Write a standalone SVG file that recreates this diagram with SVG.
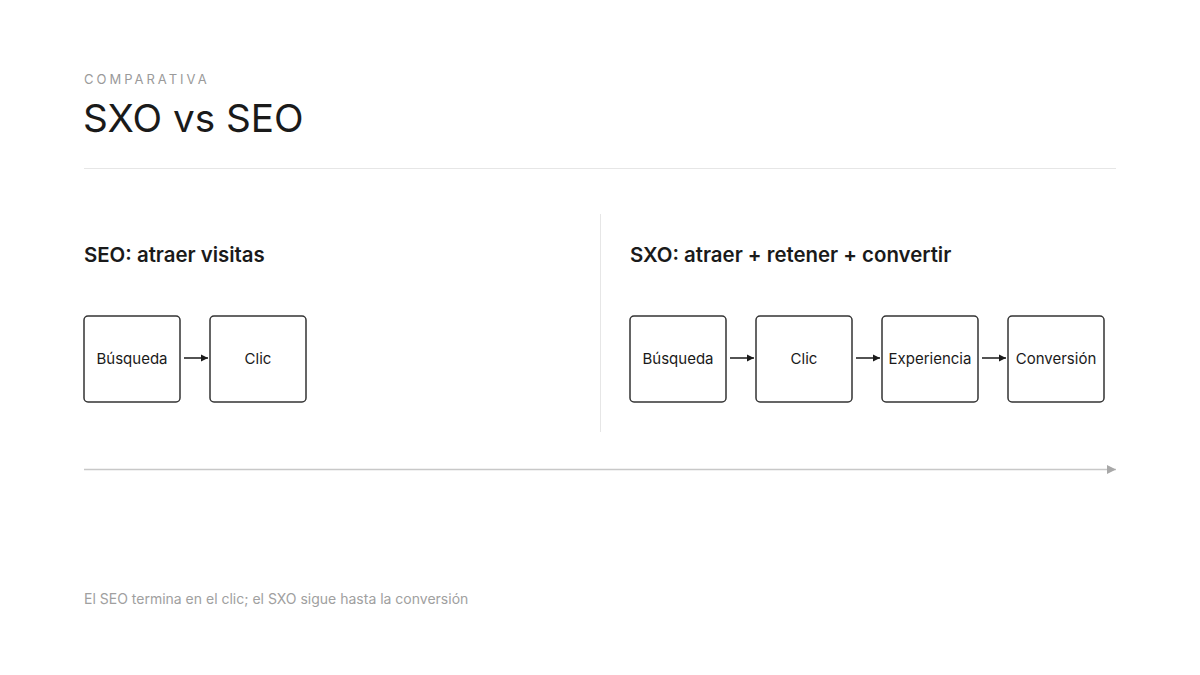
<svg xmlns="http://www.w3.org/2000/svg" width="1200" height="675" viewBox="0 0 1200 675">
<style>
text{font-family:Inter,"Noto Sans",sans-serif}
.eyebrow{font-size:13px;fill:#9a9a9a;letter-spacing:3px}
.title{font-size:38.7px;fill:#1a1a1a}
.h{font-size:20.4px;font-weight:600;fill:#1a1a1a}
.box{fill:#fff;stroke:#333;stroke-width:1.5}
.lbl{font-size:15px;fill:#1a1a1a;text-anchor:middle}
.foot{font-size:14px;fill:#a0a0a0}
.arr{stroke:#1a1a1a;stroke-width:1.5;fill:none}
</style>
<defs>
<marker id="ah" markerWidth="8" markerHeight="8" refX="7" refY="4" orient="auto" markerUnits="userSpaceOnUse"><path d="M0,0.5 L7,4 L0,7.5 Z" fill="#1a1a1a"/></marker>
<marker id="ahg" markerWidth="10" markerHeight="10" refX="9" refY="5" orient="auto" markerUnits="userSpaceOnUse"><path d="M0,0.5 L9,5 L0,9.5 Z" fill="#a8a8a8"/></marker>
</defs>
<rect width="1200" height="675" fill="#fff"/>
<text class="eyebrow" x="84" y="84">COMPARATIVA</text>
<text class="title" x="83" y="132">SXO vs SEO</text>
<line x1="84" y1="168.5" x2="1116" y2="168.5" stroke="#e6e6e6" stroke-width="1"/>
<line x1="600.5" y1="214" x2="600.5" y2="432" stroke="#e6e6e6" stroke-width="1"/>
<text class="h" x="84" y="262">SEO: atraer visitas</text>
<text class="h" x="630" y="262">SXO: atraer + retener + convertir</text>
<g id="seo-busqueda"><rect class="box" x="84" y="316" width="96" height="86" rx="4"/><text class="lbl" x="132" y="364">Búsqueda</text></g>
<g id="seo-clic"><rect class="box" x="210" y="316" width="96" height="86" rx="4"/><text class="lbl" x="258" y="364">Clic</text></g>
<g id="sxo-busqueda"><rect class="box" x="630" y="316" width="96" height="86" rx="4"/><text class="lbl" x="678" y="364">Búsqueda</text></g>
<g id="sxo-clic"><rect class="box" x="756" y="316" width="96" height="86" rx="4"/><text class="lbl" x="804" y="364">Clic</text></g>
<g id="sxo-experiencia"><rect class="box" x="882" y="316" width="96" height="86" rx="4"/><text class="lbl" x="930" y="364">Experiencia</text></g>
<g id="sxo-conversion"><rect class="box" x="1008" y="316" width="96" height="86" rx="4"/><text class="lbl" x="1056" y="364">Conversión</text></g>
<g id="connectors">
<line class="arr" x1="184" y1="358" x2="208" y2="358" marker-end="url(#ah)"/>
<line class="arr" x1="730" y1="358" x2="754" y2="358" marker-end="url(#ah)"/>
<line class="arr" x1="856" y1="358" x2="880" y2="358" marker-end="url(#ah)"/>
<line class="arr" x1="982" y1="358" x2="1006" y2="358" marker-end="url(#ah)"/>
<line x1="84" y1="469.5" x2="1116" y2="469.5" stroke="#c8c8c8" stroke-width="1.5" marker-end="url(#ahg)"/>
</g>
<text class="foot" x="84" y="604">El SEO termina en el clic; el SXO sigue hasta la conversión</text>
</svg>
